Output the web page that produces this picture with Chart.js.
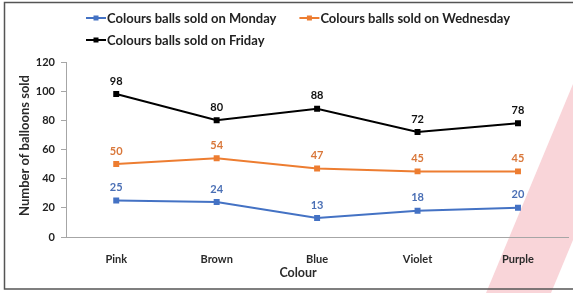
<!DOCTYPE html>
<html>
<head>
<meta charset="utf-8">
<script src="https://cdn.jsdelivr.net/npm/chart.js@4.4.1/dist/chart.umd.min.js"></script>
<style>
  html, body { margin: 0; padding: 0; background: #fff; }
  #wrap { width: 573px; height: 293px; position: relative; }
</style>
</head>
<body>
<div id="wrap"><canvas id="c" width="573" height="293"></canvas></div>
<script>
const categories = ["Pink", "Brown", "Blue", "Violet", "Purple"];
const monday = [25, 24, 13, 18, 20];
const wednesday = [50, 54, 47, 45, 45];
const friday = [98, 80, 88, 72, 78];
const seriesLabels = ["Colours balls sold on Monday", "Colours balls sold on Wednesday", "Colours balls sold on Friday"];
const seriesColors = ["#4472C4", "#ED7D31", "#000000"];
const labelColors = ["#4A6FB5", "#D9773A", "#111111"];
const yTitle = "Number of balloons sold";
const xTitle = "Colour";
const yMin = 0, yMax = 120, yStep = 20;

const FONT = "Lato, 'Liberation Sans', sans-serif";

const framePlugin = {
  id: 'frame',
  beforeDraw(chart) {
    const ctx = chart.ctx;
    ctx.save();
    ctx.fillStyle = '#fff';
    ctx.fillRect(0, 0, chart.width, chart.height);
    // watermark
    ctx.fillStyle = '#F9D5D9';
    ctx.beginPath();
    ctx.moveTo(486, 293);
    ctx.lineTo(573, 84);
    ctx.lineTo(573, 240);
    ctx.lineTo(551, 293);
    ctx.closePath();
    ctx.fill();
    // border
    ctx.strokeStyle = '#555';
    ctx.lineWidth = 1.5;
    ctx.strokeRect(4.5, 2.5, 600, 286.5);
    ctx.restore();
  },
  afterDraw(chart) {
    const ctx = chart.ctx;
    const ca = chart.chartArea;
    ctx.save();
    // axis titles
    ctx.fillStyle = '#2a2a2a';
    ctx.textAlign = 'center';
    ctx.textBaseline = 'middle';
    ctx.font = "bold 12.5px " + FONT;
    ctx.fillText(xTitle, (ca.left + ca.right) / 2 - 19, 273);
    ctx.save();
    ctx.font = "bold 13px " + FONT;
    ctx.translate(25, (ca.top + ca.bottom) / 2 - 4);
    ctx.rotate(-Math.PI / 2);
    ctx.fillText(yTitle, 0, 0);
    ctx.restore();

    // data labels
    ctx.font = "bold 11px " + FONT;
    chart.data.datasets.forEach((ds, i) => {
      const meta = chart.getDatasetMeta(i);
      ctx.fillStyle = labelColors[i];
      meta.data.forEach((pt, j) => {
        ctx.fillText(String(ds.data[j]), pt.x, pt.y - 13);
      });
    });

    // legend
    ctx.font = "bold 13px " + FONT;
    ctx.textAlign = 'left';
    let x = 86, y = 18;
    const maxX = 530;
    chart.data.datasets.forEach((ds, i) => {
      const tw = ctx.measureText(ds.label).width;
      const w = 21 + tw;
      if (x + w > maxX && x > 86) { x = 86; y += 22; }
      ctx.strokeStyle = ds.borderColor;
      ctx.lineWidth = 2;
      ctx.beginPath();
      ctx.moveTo(x, y);
      ctx.lineTo(x + 20, y);
      ctx.stroke();
      ctx.fillStyle = ds.borderColor;
      ctx.fillRect(x + 7.5, y - 2.5, 5, 5);
      ctx.fillStyle = '#222';
      ctx.fillText(ds.label, x + 21, y + 1);
      x += w + 23;
    });
    ctx.restore();
  }
};

const mk = (i, data) => ({
  label: seriesLabels[i],
  data: data,
  borderColor: seriesColors[i],
  backgroundColor: seriesColors[i],
  borderWidth: 2,
  pointStyle: 'rect',
  pointRadius: 2.8,
  pointHoverRadius: 2.8,
  tension: 0
});

new Chart(document.getElementById('c'), {
  type: 'line',
  data: {
    labels: categories,
    datasets: [mk(0, monday), mk(1, wednesday), mk(2, friday)]
  },
  options: {
    responsive: false,
    animation: false,
    devicePixelRatio: 1,
    layout: { padding: { top: 62, right: 2, bottom: 0, left: 0 } },
    plugins: { legend: { display: false }, tooltip: { enabled: false } },
    scales: {
      x: {
        offset: true,
        grid: { display: false },
        border: { display: true, color: '#A6A6A6', width: 1 },
        ticks: { color: '#2a2a2a', font: { family: FONT, size: 11, weight: 'bold' }, padding: 8 },
        afterFit(s) { s.height = 56; }
      },
      y: {
        min: yMin, max: yMax,
        ticks: { stepSize: yStep, color: '#222', font: { family: FONT, size: 11, weight: 'bold' }, padding: 6 },
        grid: { display: true, drawOnChartArea: false, drawTicks: true, tickLength: 5, color: '#A6A6A6' },
        border: { display: true, color: '#A6A6A6', width: 1 },
        afterFit(s) { s.width = 66; }
      }
    }
  },
  plugins: [framePlugin]
});
</script>
</body>
</html>
